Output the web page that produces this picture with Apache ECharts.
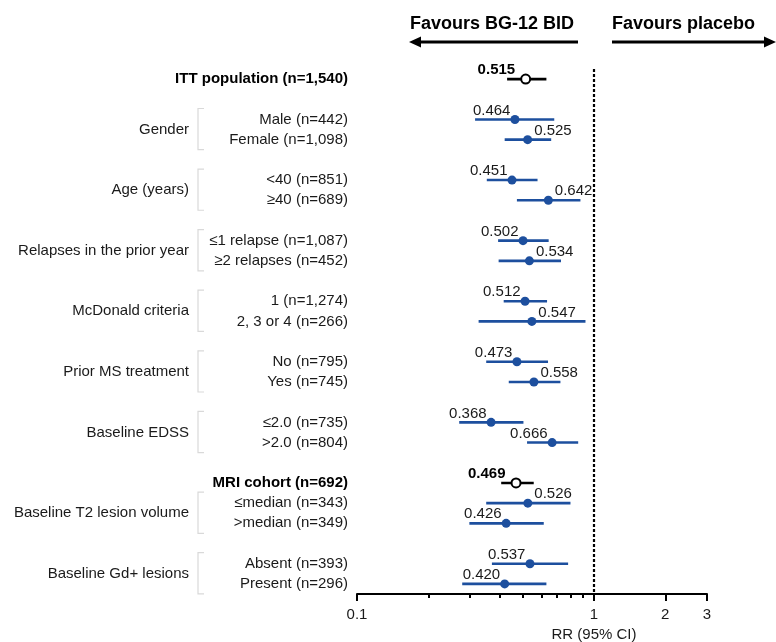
<!DOCTYPE html>
<html>
<head>
<meta charset="utf-8">
<script src="https://cdn.jsdelivr.net/npm/echarts@6/dist/echarts.min.js"></script>
<style>
html,body{margin:0;padding:0;background:#fff;}
#chart{width:776px;height:642px;}
</style>
</head>
<body>
<div id="chart"></div>
<script>
// ---- data ----
const rowLabels = ['ITT population (n=1,540)', 'Male (n=442)', 'Female (n=1,098)', '<40 (n=851)', '\u226540 (n=689)',
  '\u22641 relapse (n=1,087)', '\u22652 relapses (n=452)', '1 (n=1,274)', '2, 3 or 4 (n=266)', 'No (n=795)', 'Yes (n=745)',
  '\u22642.0 (n=735)', '>2.0 (n=804)', 'MRI cohort (n=692)', '\u2264median (n=343)', '>median (n=349)',
  'Absent (n=393)', 'Present (n=296)'];
const rrValues = [0.515, 0.464, 0.525, 0.451, 0.642, 0.502, 0.534, 0.512, 0.547, 0.473, 0.558, 0.368, 0.666, 0.469, 0.526, 0.426, 0.537, 0.420];
const ciLow  = [0.430, 0.315, 0.420, 0.353, 0.473, 0.394, 0.396, 0.416, 0.326, 0.351, 0.437, 0.270, 0.522, 0.406, 0.351, 0.298, 0.371, 0.278];
const ciHigh = [0.630, 0.680, 0.660, 0.578, 0.877, 0.644, 0.726, 0.634, 0.921, 0.640, 0.722, 0.504, 0.858, 0.557, 0.796, 0.614, 0.778, 0.630];
const overallRows = [0, 13];
const groupNames = ['Gender', 'Age (years)', 'Relapses in the prior year', 'McDonald criteria', 'Prior MS treatment', 'Baseline EDSS', 'Baseline T2 lesion volume', 'Baseline Gd+ lesions'];
const groupRows = [[1, 2], [3, 4], [5, 6], [7, 8], [9, 10], [11, 12], [14, 15], [16, 17]];
const xMajorTicks = [0.1, 1, 2, 3];
const xMinorTicks = [0.2, 0.3, 0.4, 0.5, 0.6, 0.7, 0.8, 0.9];
const referenceValue = 1;
const xTitle = 'RR (95% CI)';
const leftHeader = 'Favours BG-12 BID';
const rightHeader = 'Favours placebo';

// ---- layout (not data) ----
const rowSlot = [0, 2, 3, 5, 6, 8, 9, 11, 12, 14, 15, 17, 18, 20, 21, 22, 24, 25];
const rightLabelRows = [2, 4, 6, 8, 10, 14];
const BLUE = '#1d4f9e';
const TXT = '#1a1a1a';
const FONT = 'Arial, "Liberation Sans", sans-serif';

const isOverall = i => overallRows.indexOf(i) >= 0;
const slotLabel = {};
rowSlot.forEach((s, i) => slotLabel[s] = i);
const groupCenters = groupRows.map(g => (rowSlot[g[0]] + rowSlot[g[1]]) / 2);

const chart = echarts.init(document.getElementById('chart'), null, {renderer: 'canvas'});

const ciData = rowLabels.map((l, i) => [ciLow[i], ciHigh[i], rowSlot[i], isOverall(i) ? 1 : 0]);
const subData = [], allData = [];
rowLabels.forEach((l, i) => {
  const side = rightLabelRows.indexOf(i) >= 0 ? 'right' : 'left';
  const item = {
    value: [rrValues[i], rowSlot[i]],
    label: {position: side, offset: [0, -9], distance: side === 'right' ? 2 : (isOverall(i) ? 5 : 0)}
  };
  (isOverall(i) ? allData : subData).push(item);
});
const bracketData = groupRows.map(g => [rowSlot[g[0]], rowSlot[g[1]]]);

const option = {
  backgroundColor: '#fff',
  animation: false,
  textStyle: {fontFamily: FONT},
  grid: {left: 357, right: 69, top: 69, bottom: 48, containLabel: false, outerBoundsMode: 'none'},
  xAxis: [{
    type: 'log', logBase: 10, min: 0.1, max: 3, position: 'bottom',
    axisLine: {show: true, onZero: false, lineStyle: {color: '#000', width: 2}},
    axisTick: {show: true, length: 7, lineStyle: {color: '#000', width: 2}, customValues: xMajorTicks},
    axisLabel: {show: true, customValues: xMajorTicks, margin: 13, color: TXT, fontSize: 15, fontFamily: FONT,
      formatter: v => String(Math.round(v * 10) / 10)},
    splitLine: {show: false},
    name: xTitle, nameLocation: 'middle', nameGap: 33,
    nameTextStyle: {color: TXT, fontSize: 15, fontFamily: FONT, padding: [0, 0, 0, 124]}
  }, {
    type: 'log', logBase: 10, min: 0.1, max: 3, position: 'bottom',
    axisLine: {show: false, onZero: false},
    axisTick: {show: true, length: 4, lineStyle: {color: '#000', width: 2}, customValues: xMinorTicks},
    axisLabel: {show: false},
    splitLine: {show: false}
  }],
  yAxis: [{
    type: 'value', inverse: true, min: -0.5, max: 25.5,
    axisLine: {show: false, onZero: false}, axisTick: {show: false}, splitLine: {show: false},
    axisLabel: {
      customValues: rowSlot, margin: 9, fontSize: 15, color: TXT, fontFamily: FONT,
      formatter: v => { const i = slotLabel[v]; return isOverall(i) ? '{b|' + rowLabels[i] + '}' : rowLabels[i]; },
      rich: {b: {fontWeight: 'bold', fontSize: 15, color: '#000', fontFamily: FONT}}
    }
  }, {
    type: 'value', inverse: true, min: -0.5, max: 25.5, position: 'left', offset: 159,
    axisLine: {show: false, onZero: false}, axisTick: {show: false}, splitLine: {show: false},
    axisLabel: {
      customValues: groupCenters, margin: 9, fontSize: 15, color: TXT, fontFamily: FONT,
      formatter: v => groupNames[groupCenters.indexOf(v)]
    }
  }],
  series: [{
    type: 'custom', name: 'brackets', xAxisIndex: 0, yAxisIndex: 0, clip: false, silent: true,
    data: bracketData,
    renderItem: (params, api) => {
      const xl = api.coord([0.1, api.value(0)])[0] - 159;
      const y0 = api.coord([0.1, api.value(0)])[1] - 11;
      const y1 = api.coord([0.1, api.value(1)])[1] + 10;
      return {type: 'polyline', shape: {points: [[xl + 6, y0], [xl, y0], [xl, y1], [xl + 6, y1]]},
        style: {stroke: '#d9d9d9', lineWidth: 1.2, fill: null}};
    }
  }, {
    type: 'custom', name: 'ci', xAxisIndex: 0, yAxisIndex: 0, silent: true,
    data: ciData,
    renderItem: (params, api) => {
      const p0 = api.coord([api.value(0), api.value(2)]);
      const p1 = api.coord([api.value(1), api.value(2)]);
      return {type: 'line', shape: {x1: p0[0], y1: p0[1], x2: p1[0], y2: p1[1]},
        style: {stroke: api.value(3) ? '#000' : BLUE, lineWidth: 2.6}};
    },
    markLine: {
      silent: true, symbol: 'none', label: {show: false},
      lineStyle: {color: '#000', type: [3, 2], width: 2.2, opacity: 1},
      data: [{xAxis: referenceValue}]
    }
  }, {
    type: 'scatter', name: 'subgroups', xAxisIndex: 0, yAxisIndex: 0,
    symbol: 'circle', symbolSize: 9,
    itemStyle: {color: BLUE, opacity: 1},
    label: {show: true, fontSize: 15, color: TXT, fontFamily: FONT,
      formatter: p => p.value[0].toFixed(3)},
    data: subData
  }, {
    type: 'scatter', name: 'overall', xAxisIndex: 0, yAxisIndex: 0,
    symbol: 'circle', symbolSize: 9,
    itemStyle: {color: '#fff', borderColor: '#000', borderWidth: 2, opacity: 1},
    label: {show: true, fontSize: 15, fontWeight: 'bold', color: '#000', fontFamily: FONT,
      formatter: p => p.value[0].toFixed(3)},
    data: allData
  }],
  graphic: [
    {type: 'text', left: 410, top: 15, style: {text: leftHeader, font: 'bold 18px ' + FONT, fill: '#000'}},
    {type: 'text', left: 612, top: 15, style: {text: rightHeader, font: 'bold 18px ' + FONT, fill: '#000'}},
    {type: 'line', shape: {x1: 578, y1: 42, x2: 418, y2: 42}, style: {stroke: '#000', lineWidth: 3}},
    {type: 'polygon', shape: {points: [[409, 42], [421, 36.5], [421, 47.5]]}, style: {fill: '#000'}},
    {type: 'line', shape: {x1: 612, y1: 42, x2: 766, y2: 42}, style: {stroke: '#000', lineWidth: 3}},
    {type: 'polygon', shape: {points: [[776, 42], [764, 36.5], [764, 47.5]]}, style: {fill: '#000'}}
  ]
};
chart.setOption(option);
</script>
</body>
</html>
